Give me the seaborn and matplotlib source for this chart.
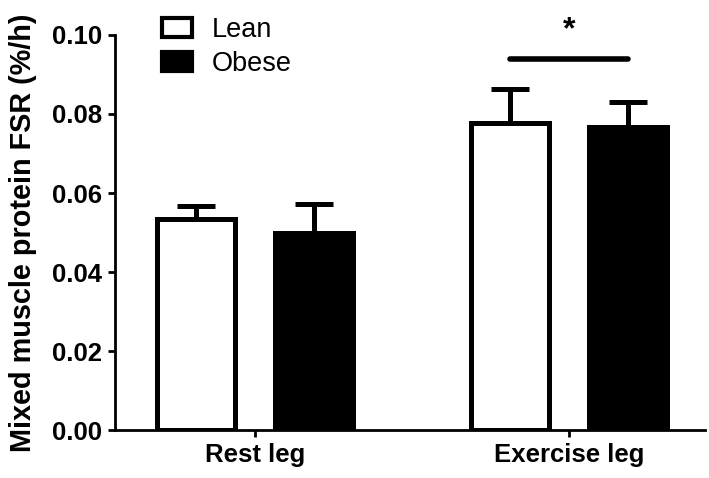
import pandas as pd
import seaborn as sns
import matplotlib.pyplot as plt
from matplotlib.patches import Patch

legs = ['Rest leg', 'Exercise leg']
groups = ['Lean', 'Obese']
lean_fsr = [0.0534, 0.0776]
obese_fsr = [0.0500, 0.0767]
lean_err = [0.0034, 0.0086]
obese_err = [0.0071, 0.0064]
yticks = [0.00, 0.02, 0.04, 0.06, 0.08, 0.10]
ylabel = 'Mixed muscle protein FSR (%/h)'

sns.set_theme(style='ticks')
plt.rcParams['font.family'] = ['Liberation Sans', 'DejaVu Sans']
plt.rcParams.update({'text.color': 'black', 'axes.labelcolor': 'black',
                     'xtick.color': 'black', 'ytick.color': 'black',
                     'axes.edgecolor': 'black'})

df = pd.DataFrame({
    'leg': legs * 2,
    'group': ['Lean'] * 2 + ['Obese'] * 2,
    'fsr': lean_fsr + obese_fsr,
    'err': lean_err + obese_err,
})

fig = plt.figure(figsize=(7.09, 4.78), dpi=100)
ax = fig.add_axes([0.162, 0.100, 0.832, 0.827])

sns.barplot(data=df, x='leg', y='fsr', hue='group', order=legs, hue_order=groups,
            palette={'Lean': 'white', 'Obese': 'black'}, edgecolor='black',
            linewidth=3.6, width=0.752, gap=0.34, errorbar=None, legend=False, ax=ax)

# one-sided error bars, patches come in hue order
centers = []
for bar, e in zip(ax.patches, df['err']):
    cx = bar.get_x() + bar.get_width() / 2
    h = bar.get_height()
    centers.append(cx)
    ax.errorbar(cx, h, yerr=[[0], [e]], fmt='none', ecolor='black',
                elinewidth=3.6, capsize=14, capthick=3.6, zorder=1)

# significance bar over exercise leg
ax.plot([centers[1], centers[3]], [0.094, 0.094], color='black', lw=4, clip_on=False)
ax.text((centers[1] + centers[3]) / 2, 0.1012, '*', ha='center', va='center',
        fontsize=23, fontweight='bold', clip_on=False)

ax.set_xlim(-0.446, 1.433)
ax.set_ylim(0, 0.10)
ax.set_yticks(yticks)
ax.set_yticklabels([f'{t:.2f}' for t in yticks])
ax.set_xlabel('')
ax.set_ylabel(ylabel, fontsize=20.8, fontweight='bold', labelpad=11)
ax.tick_params(axis='y', labelsize=18.5, width=2, length=5, pad=4)
ax.tick_params(axis='x', labelsize=18.5, width=2, length=5, pad=4)
for lab in ax.get_xticklabels() + ax.get_yticklabels():
    lab.set_fontweight('bold')
sns.despine(ax=ax)
for s in ['left', 'bottom']:
    ax.spines[s].set_linewidth(2)

handles = [Patch(facecolor='white', edgecolor='black', linewidth=3),
           Patch(facecolor='black', edgecolor='black', linewidth=3)]
fig.legend(handles, groups, loc='upper left', bbox_to_anchor=(0.2285, 0.965),
           bbox_transform=fig.transFigure, frameon=False, fontsize=19.5,
           handlelength=1.1, handleheight=0.7, handletextpad=0.72,
           labelspacing=0.3, borderpad=0, borderaxespad=0)

plt.savefig('out.png', dpi=100)
plt.close(fig)
